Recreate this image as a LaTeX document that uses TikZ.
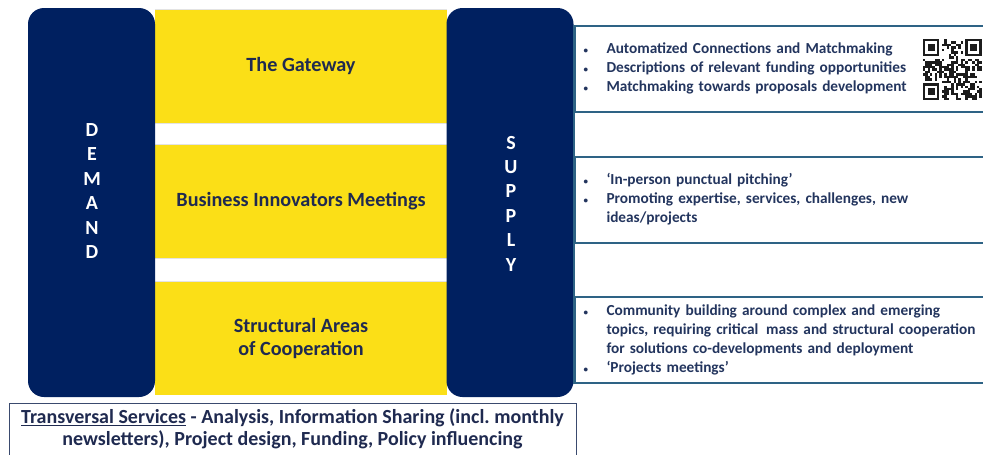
\documentclass[tikz,border=0pt]{standalone}
\usepackage{fontspec}
\setmainfont{Carlito}
\frenchspacing
\definecolor{navy}{HTML}{002060}
\definecolor{gold}{HTML}{FBDF17}
\definecolor{bandtxt}{HTML}{1F2A50}
\definecolor{paneltxt}{HTML}{23355E}
\definecolor{panelline}{HTML}{2E6385}
\definecolor{boxline}{HTML}{3A4A6E}
\definecolor{qrdark}{HTML}{1C1C1C}
\tikzset{
  darkbox/.style={fill=navy, draw=none, rounded corners=16pt, minimum width=127pt, minimum height=389pt, inner sep=0pt},
  band/.style={fill=gold, draw=none, minimum width=292pt, minimum height=113pt, inner sep=0pt, text=bandtxt, font=\fontsize{20.2}{22.5}\selectfont\bfseries, align=center},
  vlabel/.style={text=white, font=\fontsize{20}{24.4}\selectfont\bfseries, align=center, inner sep=0pt},
  panel/.style={draw=panelline, line width=1.8pt, minimum width=415pt, minimum height=86pt, inner xsep=8pt, text width=398pt, align=left, text=paneltxt, font=\fontsize{15.3}{19}\selectfont\bfseries},
  gapline/.style={draw=gray!22, line width=1pt}
}
\newcommand{\bul}{{\fontsize{9}{9}\selectfont\textbullet}}
\begin{document}
\begin{tikzpicture}[x=1pt,y=-1pt]
\useasboundingbox (0,0) rectangle (983,455);
\fill[white] (0,0) rectangle (983,455);
% yellow bands
\node[band] (gateway) at (301,66.5) {The Gateway};
\node[band] (bim) at (301,201.5) {Business Innovators Meetings};
\node[band] (sac) at (301,338.5) {Structural Areas\\of Cooperation};
% thin light lines around gaps
\draw[gapline] (gateway.north west) -- (gateway.north east);
\draw[gapline] (gateway.south west) -- (gateway.south east);
\draw[gapline] (bim.north west) -- (bim.north east);
\draw[gapline] (bim.south west) -- (bim.south east);
\draw[gapline] (sac.north west) -- (sac.north east);
% demand / supply
\node[darkbox] (demand) at (91.5,202.5) {};
\node[darkbox] (supply) at (510,202.5) {};
\node[vlabel] (dtext) at (92,191) {D\\E\\M\\A\\N\\D};
\node[vlabel] (stext) at (511,203.5) {S\\U\\P\\P\\L\\Y};
% bottom box
\node[draw=boxline, line width=1pt, minimum width=567pt, minimum height=56pt, inner sep=0pt, anchor=north west] (trans) at (9,403) {};
\node[text=bandtxt, font=\fontsize{20}{22}\selectfont\bfseries, align=center, inner sep=0pt] (transtxt) at (292.5,429) {\underline{Transversal Services} - Analysis, Information Sharing (incl. monthly\\newsletters), Project design, Funding, Policy influencing};
% right panels
\node[panel] (p1) at (782.5,69) {\begin{tabular}{@{}p{23pt}@{}l@{}}\bul & Automatized Connections and Matchmaking\\ \bul & Descriptions of relevant funding opportunities\\ \bul & Matchmaking towards proposals development\end{tabular}};
\node[panel] (p2) at (782.5,200) {\begin{tabular}{@{}p{23pt}@{}l@{}}\bul & ‘In-person punctual pitching’\\ \bul & Promoting expertise, services, challenges, new\\ & ideas/projects\end{tabular}};
\node[panel] (p3) at (782.5,340) {\begin{tabular}{@{}p{23pt}@{}l@{}}\bul & Community building around complex and emerging\\ & topics, requiring critical\, mass and structural cooperation\\ & for solutions co-developments and deployment\\ \bul & ‘Projects meetings’\end{tabular}};
\draw[panelline, line width=1.8pt] (p1.north west) -- (p3.south west);
% QR code
\begin{scope}[shift={(923,39)}, x=2.35pt, y=-2.45pt]
  \fill[white] (0,0) rectangle (25,25);
  \foreach \fx/\fy in {0/0, 18/0, 0/18} {
    \fill[qrdark] (\fx,\fy) rectangle ++(7,7);
    \fill[white] (\fx+1,\fy+1) rectangle ++(5,5);
    \fill[qrdark] (\fx+2,\fy+2) rectangle ++(3,3);
  }
  \pgfmathsetseed{11}
  \foreach \i in {0,...,24} {
    \foreach \j in {0,...,24} {
      \pgfmathtruncatemacro\infind{((\i<8) && (\j<8)) || ((\i>16) && (\j<8)) || ((\i<8) && (\j>16))}
      \pgfmathtruncatemacro\on{rnd<0.48}
      \ifnum\infind=0 \ifnum\on=1
        \fill[qrdark] (\i,\j) rectangle ++(1.02,1.02);
      \fi\fi
    }
  }
\end{scope}
\end{tikzpicture}
\end{document}
